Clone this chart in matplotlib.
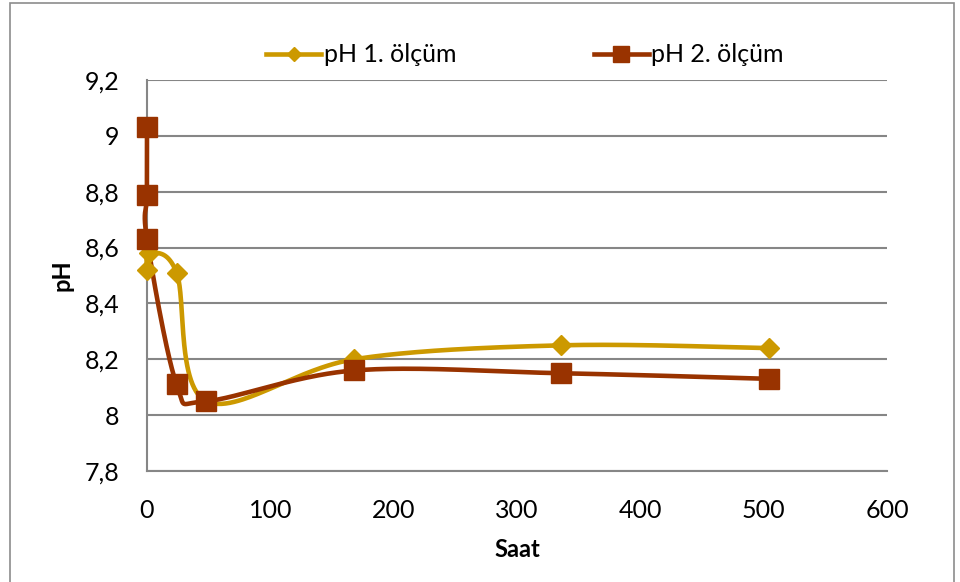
import numpy as np
import matplotlib
matplotlib.use("Agg")
import matplotlib.pyplot as plt
from matplotlib.ticker import FuncFormatter, MultipleLocator
from matplotlib.patches import Rectangle

# Measurements: time (hours) and pH
hours_1 = [0, 2, 24, 48, 168, 336, 504]
ph_1 = [8.52, 8.58, 8.51, 8.05, 8.20, 8.25, 8.24]

hours_2 = [0, 0, 0, 24, 48, 168, 336, 504]
ph_2 = [9.03, 8.79, 8.63, 8.11, 8.05, 8.16, 8.15, 8.13]

labels = ["pH 1. ölçüm", "pH 2. ölçüm"]
colors = ["#CC9900", "#993300"]
markers = ["D", "s"]


def smooth(xs, ys, n=60):
    """Catmull-Rom style smoothing through the points using cubic Bezier segments."""
    p = np.column_stack([xs, ys]).astype(float)
    out = [p[0]]
    t = np.linspace(0, 1, n)[1:, None]
    for i in range(len(p) - 1):
        p0 = p[i - 1] if i > 0 else p[i]
        p1, p2 = p[i], p[i + 1]
        p3 = p[i + 2] if i + 2 < len(p) else p[i + 1]
        c1 = p1 + (p2 - p0) / 6.0
        c2 = p2 - (p3 - p1) / 6.0
        seg = ((1 - t) ** 3) * p1 + 3 * ((1 - t) ** 2) * t * c1 + 3 * (1 - t) * t ** 2 * c2 + t ** 3 * p2
        out.extend(seg)
    out = np.array(out)
    return out[:, 0], out[:, 1]


plt.rcParams["font.family"] = ["Lato", "DejaVu Sans"]

fig = plt.figure(figsize=(9.6, 5.82), dpi=100)
ax = fig.add_axes([147 / 960, 1 - 471 / 582, 740 / 960, 391 / 582])

# outer chart border
fig.patches.append(Rectangle((10 / 960, -0.01), 944 / 960, 1 - 3 / 582 + 0.01,
                             transform=fig.transFigure, fill=False,
                             edgecolor="#8c8c8c", linewidth=1.2))

for xs, ys, c, m, lab, ms in [(hours_1, ph_1, colors[0], markers[0], labels[0], 10),
                              (hours_2, ph_2, colors[1], markers[1], labels[1], 14)]:
    sx, sy = smooth(xs, ys)
    ax.plot(sx, sy, color=c, linewidth=3.3, solid_capstyle="round", zorder=3, clip_on=False)
    ax.plot(xs, ys, linestyle="none", marker=m, markersize=ms, color=c, zorder=4, clip_on=False)
    ax.plot([], [], color=c, linewidth=3.3, marker=m, markersize=ms - 3, label=lab)

ax.set_xlim(0, 600)
ax.set_ylim(7.8, 9.2)
ax.xaxis.set_major_locator(MultipleLocator(100))
ax.yaxis.set_major_locator(MultipleLocator(0.2))
ax.yaxis.set_major_formatter(FuncFormatter(lambda v, _: ("%g" % round(v, 1)).replace(".", ",")))

ax.grid(axis="y", color="#868686", linewidth=1.5)
ax.set_axisbelow(True)
for s in ["top", "right"]:
    ax.spines[s].set_visible(False)
for s in ["left", "bottom"]:
    ax.spines[s].set_color("#868686")
    ax.spines[s].set_linewidth(1.5)
ax.tick_params(length=0, labelsize=18)
ax.tick_params(axis="x", pad=20)
ax.tick_params(axis="y", pad=20)

ax.set_xlabel("Saat", fontsize=17, fontweight="bold", labelpad=12)
ax.set_ylabel("pH", fontsize=17, fontweight="bold", labelpad=8)

fig.legend(loc="center", bbox_to_anchor=(525 / 960, 1 - 55 / 582), ncol=2,
           frameon=False, fontsize=18, handlelength=2.2, handletextpad=0.1,
           columnspacing=5.5)

fig.savefig("out.png", dpi=100)
